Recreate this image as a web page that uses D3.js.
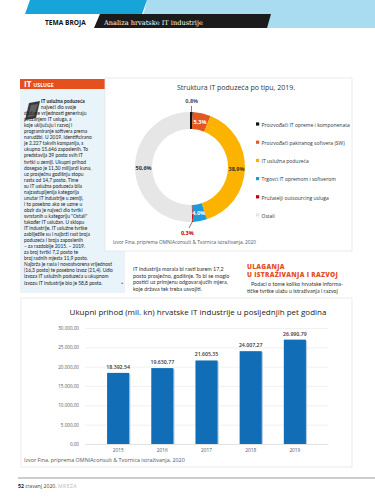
<!DOCTYPE html>
<html>
<head>
<meta charset="utf-8">
<script src="https://cdn.jsdelivr.net/npm/d3@7"></script>
<style>
	html, body { margin: 0; padding: 0; background: #fff; }
	svg { display: block; font-family: "Open Sans", sans-serif; }
</style>
</head>
<body>
<svg id="page" width="375" height="499" viewBox="0 0 375 499"></svg>
<script>

// --- data ---
const pieLabels = ["Proizvođači IT opreme i komponenata", "Proizvođači pakiranog softvera (SW)", "IT uslužna poduzeća",
	"Trgovci IT opremom i softverom", "Pružatelji outsourcing usluga", "Ostali"];
const pieValues = [0.8, 5.3, 38.9, 4.0, 0.3, 50.6];
const pieColors = ["#111111", "#e2591f", "#fbb300", "#1b9bd8", "#c00000", "#e6e6e6"];
const pieLabelColors = ["#44546a", "#ffffff", "#333333", "#ffffff", "#c00000", "#333333"];

const years = ["2015", "2016", "2017", "2018", "2019"];
const revenue = [18392.54, 19630.77, 21605.35, 24007.27, 26990.79];
const revenueTicks = [0, 5000, 10000, 15000, 20000, 25000, 30000];

const sidebarLines = [
	"IT uslužna poduzeća",
	"najveći dio svoje",
	"dodane vrijednosti generiraju",
	"pružanjem IT usluga, a",
	"koje uključuju i razvoj i",
	"programiranje softvera prema",
	"narudžbi. U 2019. identificirano",
	"je 2.227 takvih kompanija, s",
	"ukupno 15.646 zaposlenih. To",
	"predstavlja 39 posto svih IT",
	"tvrtki u zemlji. Ukupni prihod",
	"dosegao je 11,30 milijardi kuna,",
	"uz prosječnu godišnju stopu",
	"rasta od 14,7 posto. Time",
	"su IT uslužna poduzeća bila",
	"najzastupljenija kategorija",
	"unutar IT industrije u zemlji,",
	"i to posebno ako se uzme u",
	"obzir da je najveći dio tvrtki",
	"svrstanih u kategoriju \"Ostali\"",
	"također IT uslužan. U sklopu",
	"IT industrije, IT uslužne tvrtke",
	"zabilježile su i najbrži rast broja",
	"poduzeća i broja zaposlenih",
	"– za razdoblje 2015. – 2019.",
	"za broj tvrtki 7,2 posto te",
	"broj radnih mjesta 11,9 posto.",
	"Najbrža je rasla i novostvorena vrijednost",
	"(16,3 posto) te posebno izvoz (21,4). Udio",
	"izvoza IT uslužnih poduzeća u ukupnom",
	"izvozu IT industrije bio je 58,8 posto."
];
const quoteLines = [
	"IT industrija morala bi rasti barem 17,2",
	"posto prosječno, godišnje. To bi se moglo",
	"postići uz primjenu odgovarajućih mjera,",
	"koje država tek treba usvojiti."
];
const rdHeading = ["ULAGANJA", "U ISTRAŽIVANJA I RAZVOJ"];
const rdLines = [
	"Podaci o tome koliko hrvatske informa-",
	"tičke tvrtke ulažu u istraživanja i razvoj"
];

const hr = d3.formatLocale({ decimal: ",", thousands: ".", grouping: [3], currency: ["", ""] });
const fmtMoney = hr.format(",.2f");
const fmtPct = d => hr.format(".1f")(d) + "%";

const svg = d3.select("#page");

// --- page header ---
svg.append("polygon").attr("points", "147,0 375,0 375,28 140,28").attr("fill", "#a9dcf0");
svg.append("polygon").attr("points", "30,0 147,0 142,14 25,14").attr("fill", "#17a5d9");
svg.append("polygon").attr("points", "100,14 271,14 267,28 94,28").attr("fill", "#1b1b1b");
svg.append("text").attr("x", 45).attr("y", 24.5)
	.attr("font-size", 6.6).attr("font-weight", 700).attr("fill", "#111").text("TEMA BROJA");
svg.append("text").attr("x", 104).attr("y", 24.5)
	.attr("font-family", "DejaVu Serif, serif").attr("font-size", 6.6).attr("fill", "#ffffff")
	.text("Analiza hrvatske IT industrije");

// --- sidebar ---
svg.append("rect").attr("x", 20).attr("y", 89).attr("width", 105).attr("height", 204).attr("fill", "#e8f3fa");
svg.append("rect").attr("x", 20).attr("y", 79).attr("width", 85).attr("height", 10).attr("fill", "#e5501f");
const hdr = svg.append("text").attr("x", 24).attr("y", 87).attr("fill", "#fff").attr("font-weight", 700);
hdr.append("tspan").attr("font-size", 8).text("IT ");
hdr.append("tspan").attr("font-size", 5.2).text("USLUGE");

svg.append("polygon").attr("points", "29,103 40,101 36,118 25,120").attr("fill", "#3a3a3a");
svg.append("polygon").attr("points", "31,105 38,104 34,116 28,117").attr("fill", "#8a8a8a").attr("opacity", 0.5);

const sideText = svg.append("g").attr("font-family", "Lato, sans-serif").attr("font-size", 4.9).attr("fill", "#222");
sideText.selectAll("text")
	.data(sidebarLines)
	.enter().append("text")
	.attr("x", (d, i) => i < 2 ? 41 : 24)
	.attr("y", (d, i) => 103 + i * 6.05)
	.attr("font-weight", (d, i) => i === 0 ? 700 : 400)
	.text(d => d);
sideText.append("text").attr("x", 121).attr("y", 103 + 30 * 6.05)
	.attr("fill", "#e5501f").attr("font-size", 5).text("▪");

// --- pie panel ---
svg.append("rect").attr("x", 105).attr("y", 78).attr("width", 247).attr("height", 173)
	.attr("fill", "#fff").attr("stroke", "#e6e6e6").attr("stroke-width", 0.8);
svg.append("text").attr("x", 236).attr("y", 90).attr("text-anchor", "middle")
	.attr("font-size", 7).attr("fill", "#333").text("Struktura IT poduzeća po tipu, 2019.");

const cx = 190, cy = 167, rOut = 55, rIn = 38;
const pie = d3.pie().sort(null).value(d => d)(pieValues);
const arc = d3.arc().innerRadius(rIn).outerRadius(rOut);
const pieG = svg.append("g").attr("transform", `translate(${cx},${cy})`);
pieG.selectAll("path")
	.data(pie)
	.enter().append("path")
	.attr("d", arc)
	.attr("fill", (d, i) => pieColors[i]);

// labels inside the ring
pieG.selectAll(".in-label")
	.data(pie.filter(d => d.data >= 1))
	.enter().append("text")
	.attr("class", "in-label")
	.attr("transform", d => `translate(${arc.centroid(d)})`)
	.attr("text-anchor", "middle").attr("dy", "0.35em")
	.attr("font-size", 5.5).attr("font-weight", 700)
	.attr("fill", d => pieLabelColors[d.index])
	.text(d => fmtPct(d.data));

// labels outside with leader lines
const small = pie.filter(d => d.data < 1);
const pt = (d, r) => {
	const a = (d.startAngle + d.endAngle) / 2;
	return [r * Math.sin(a), -r * Math.cos(a)];
};
pieG.selectAll(".leader")
	.data(small)
	.enter().append("line")
	.attr("x1", d => pt(d, rOut - 1)[0]).attr("y1", d => pt(d, rOut - 1)[1])
	.attr("x2", d => pt(d, rOut + 6)[0] - (d.index === 4 ? 4 : 0)).attr("y2", d => pt(d, rOut + 6)[1])
	.attr("stroke", "#222").attr("stroke-width", 0.6);
pieG.selectAll(".out-label")
	.data(small)
	.enter().append("text")
	.attr("x", d => pt(d, rOut + 11)[0] - (d.index === 4 ? 6 : 0))
	.attr("y", d => pt(d, rOut + 11)[1])
	.attr("text-anchor", "middle").attr("dy", "0.35em")
	.attr("font-size", 5.5).attr("font-weight", 700)
	.attr("fill", d => pieLabelColors[d.index])
	.text(d => fmtPct(d.data));

// legend
const legend = svg.append("g").attr("transform", "translate(256,125)");
const legendRow = legend.selectAll("g")
	.data(pieLabels)
	.enter().append("g")
	.attr("transform", (d, i) => `translate(0,${i * 18.2})`);
legendRow.append("rect").attr("x", 0).attr("y", -2.6).attr("width", 3.2).attr("height", 3.2)
	.attr("fill", (d, i) => pieColors[i]);
legendRow.append("text").attr("x", 5.5).attr("y", 0).attr("dy", "0.35em")
	.attr("font-size", 5).attr("fill", "#333").text(d => d);

svg.append("text").attr("x", 113).attr("y", 244).attr("font-size", 4.8).attr("fill", "#555")
	.text("Izvor Fina, priprema OMNIAconsult & Tvornica istraživanja, 2020");

// --- quote & R&D column ---
svg.append("g").attr("font-family", "Lato, sans-serif").attr("font-size", 5.4).attr("fill", "#333")
	.selectAll("text").data(quoteLines).enter().append("text")
	.attr("x", 133).attr("y", (d, i) => 271 + i * 6.7).text(d => d);
svg.append("g").attr("font-size", 6.5).attr("font-weight", 800).attr("fill", "#e5501f")
	.attr("letter-spacing", 0.3)
	.selectAll("text").data(rdHeading).enter().append("text")
	.attr("x", 247).attr("y", (d, i) => 269 + i * 8.2).text(d => d);
svg.append("g").attr("font-family", "Lato, sans-serif").attr("font-size", 5.4).attr("fill", "#333")
	.selectAll("text").data(rdLines).enter().append("text")
	.attr("x", (d, i) => i === 0 ? 251 : 247).attr("y", (d, i) => 286 + i * 7).text(d => d);

// --- bar panel ---
svg.append("rect").attr("x", 21).attr("y", 298).attr("width", 331).attr("height", 169)
	.attr("fill", "#fff").attr("stroke", "#e6e6e6").attr("stroke-width", 0.8);
svg.append("text").attr("x", 198).attr("y", 315).attr("text-anchor", "middle")
	.attr("font-size", 8).attr("fill", "#222")
	.text("Ukupni prihod (mil. kn) hrvatske IT industrije u posljednjih pet godina");

const x = d3.scaleBand().domain(years).range([85, 328]).padding(0.5);
const y = d3.scaleLinear().domain([0, 30000]).range([444, 328]);

const yAxis = d3.axisLeft(y).tickValues(revenueTicks).tickFormat(fmtMoney)
	.tickSize(-(328 - 85)).tickPadding(6);
const yG = svg.append("g").attr("transform", "translate(85,0)").call(yAxis);
yG.select(".domain").remove();
yG.selectAll(".tick line").attr("stroke", "#e8e8e8").attr("stroke-width", 0.6);
yG.selectAll(".tick text").attr("font-size", 4.6).attr("fill", "#595959").attr("font-family", "Open Sans, sans-serif");

const xAxis = d3.axisBottom(x).tickSize(0).tickPadding(5);
const xG = svg.append("g").attr("transform", "translate(0,444)").call(xAxis);
xG.select(".domain").attr("stroke", "#d9d9d9").attr("stroke-width", 0.6);
xG.selectAll(".tick text").attr("font-size", 4.8).attr("fill", "#595959").attr("font-family", "Open Sans, sans-serif");

const bars = svg.append("g");
bars.selectAll(".shadow")
	.data(revenue)
	.enter().append("rect")
	.attr("x", (d, i) => x(years[i]) + 1.2)
	.attr("y", d => y(d) + 1)
	.attr("width", x.bandwidth())
	.attr("height", d => y(0) - y(d) - 1)
	.attr("fill", "#b8cde0");
bars.selectAll(".bar")
	.data(revenue)
	.enter().append("rect")
	.attr("x", (d, i) => x(years[i]))
	.attr("y", d => y(d))
	.attr("width", x.bandwidth())
	.attr("height", d => y(0) - y(d))
	.attr("fill", "#106db6");
bars.selectAll(".val")
	.data(revenue)
	.enter().append("text")
	.attr("x", (d, i) => x(years[i]) + x.bandwidth() / 2)
	.attr("y", d => y(d) - 4)
	.attr("text-anchor", "middle")
	.attr("font-size", 5.2).attr("font-weight", 600).attr("fill", "#333")
	.text(d => fmtMoney(d));

svg.append("text").attr("x", 24).attr("y", 462).attr("font-size", 5.4).attr("fill", "#555")
	.text("Izvor Fina, priprema OMNIAconsult & Tvornica istraživanja, 2020");

// --- footer ---
svg.append("line").attr("x1", 18).attr("x2", 375).attr("y1", 478).attr("y2", 478)
	.attr("stroke", "#bdbdbd").attr("stroke-width", 1.6);
const foot = svg.append("text").attr("x", 18).attr("y", 488).attr("font-size", 5.2);
foot.append("tspan").attr("font-weight", 700).attr("fill", "#222").text("52 ");
foot.append("tspan").attr("fill", "#444").text(" travanj 2020.  ");
foot.append("tspan").attr("fill", "#bbb").attr("letter-spacing", 0.4).text("MREŽA");

</script>
</body>
</html>
